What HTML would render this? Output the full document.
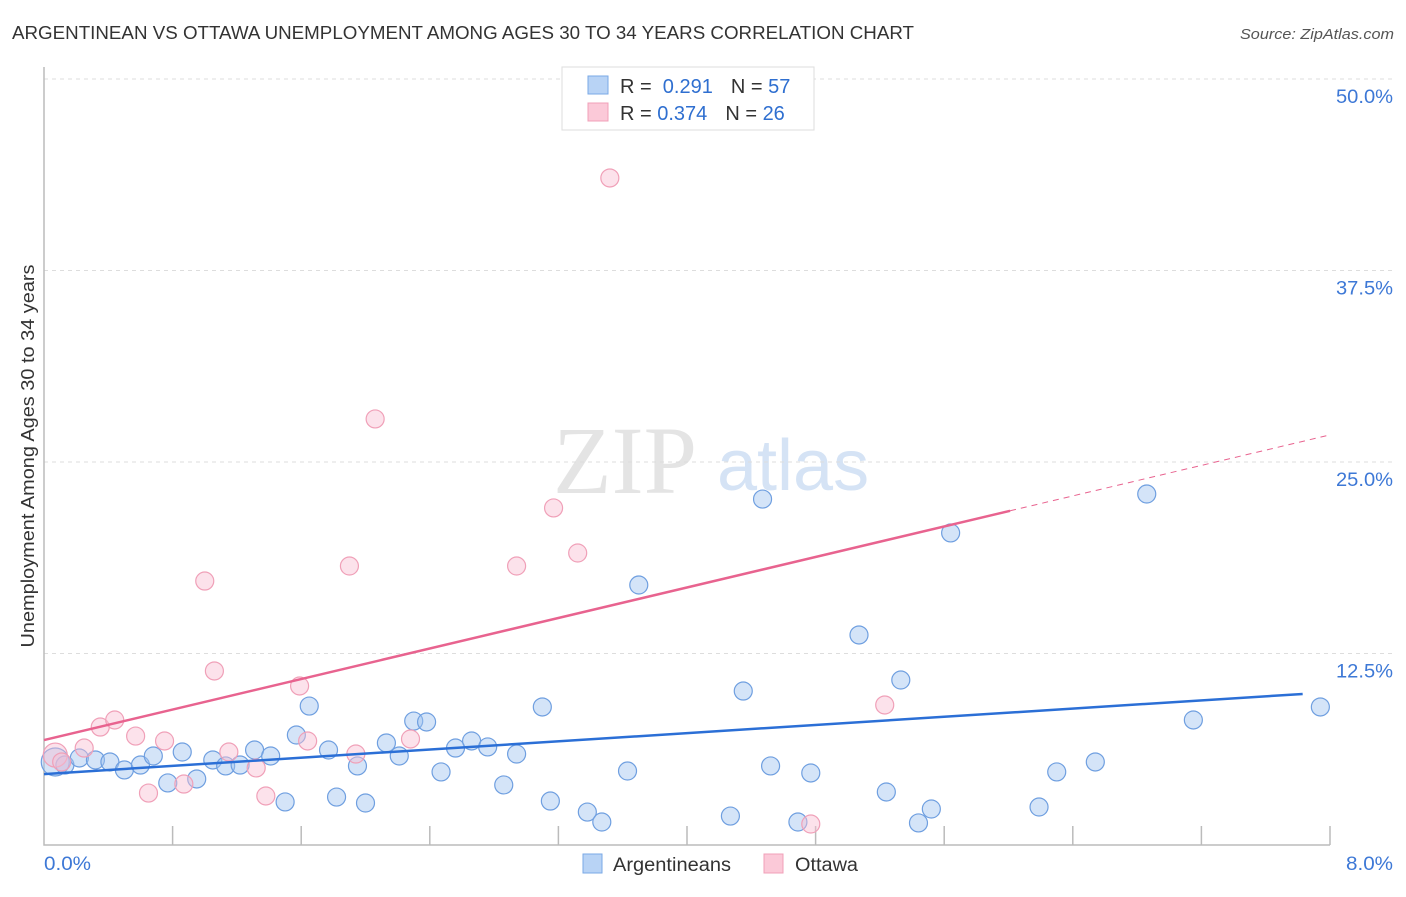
<!DOCTYPE html>
<html><head><meta charset="utf-8"><style>
body{margin:0;background:#fff;font-family:"Liberation Sans",sans-serif;}
</style></head><body>
<svg id="c" width="1406" height="892" xmlns="http://www.w3.org/2000/svg">
<text x="12" y="39" font-size="18" fill="#333" textLength="902" lengthAdjust="spacingAndGlyphs">ARGENTINEAN VS OTTAWA UNEMPLOYMENT AMONG AGES 30 TO 34 YEARS CORRELATION CHART</text>
<text x="1394" y="39" font-size="15" fill="#555" font-style="italic" text-anchor="end" textLength="154" lengthAdjust="spacingAndGlyphs">Source: ZipAtlas.com</text>
<g>
<text x="553" y="493" font-size="96" font-family="Liberation Serif,serif" fill="#e4e4e4">ZIP</text>
<text x="717" y="490" font-size="72" fill="#d5e3f5">atlas</text>
</g>
<g id="grid"></g>
<g id="axes"></g>
<g id="pts"></g>
<g id="lines"></g>
<text transform="translate(34,456) rotate(-90)" font-size="18" fill="#333" text-anchor="middle" textLength="383" lengthAdjust="spacingAndGlyphs">Unemployment Among Ages 30 to 34 years</text>
<g>
<rect x="562" y="67" width="252" height="63" fill="#fff" stroke="#ddd"/>
<rect x="588" y="76" width="20" height="18" fill="#b8d3f5" stroke="#7aa8e6"/>
<rect x="588" y="103" width="20" height="18" fill="#fbc9d8" stroke="#f0a0b8"/>
<text x="620" y="93" font-size="20" fill="#333">R = <tspan fill="#2f6fd0">&#160;0.291</tspan><tspan dx="18">N = </tspan><tspan fill="#2f6fd0">57</tspan></text>
<text x="620" y="120" font-size="20" fill="#333">R = <tspan fill="#2f6fd0">0.374</tspan><tspan dx="18">N = </tspan><tspan fill="#2f6fd0">26</tspan></text>
</g>
<g>
<rect x="583" y="854" width="19" height="19" fill="#b8d3f5" stroke="#7aa8e6"/>
<text x="613" y="871" font-size="19" fill="#333" textLength="118" lengthAdjust="spacingAndGlyphs">Argentineans</text>
<rect x="764" y="854" width="19" height="19" fill="#fbc9d8" stroke="#f0a0b8"/>
<text x="795" y="871" font-size="19" fill="#333" textLength="63" lengthAdjust="spacingAndGlyphs">Ottawa</text>
</g>
</svg>
<script>
const yTicks=[12.5,25,37.5,50];
const yTickLabels=["12.5%","25.0%","37.5%","50.0%"];
const xTickVals=[0,0.8,1.6,2.4,3.2,4.0,4.8,5.6,6.4,7.2,8.0];
const blueX=[0.07,0.13,0.22,0.32,0.41,0.50,0.60,0.68,0.77,0.86,0.95,1.05,1.13,1.22,1.31,1.41,1.50,1.57,1.65,1.77,1.82,1.95,2.00,2.13,2.21,2.30,2.38,2.47,2.56,2.66,2.76,2.86,2.94,3.10,3.15,3.38,3.47,3.63,3.70,4.27,4.35,4.47,4.52,4.69,4.77,5.07,5.24,5.33,5.44,5.52,5.64,6.19,6.30,6.54,6.86,7.15,7.94];
const blueY=[5.42,5.22,5.68,5.55,5.42,4.90,5.22,5.81,4.05,6.07,4.31,5.55,5.16,5.22,6.20,5.81,2.81,7.18,9.07,6.20,3.13,5.16,2.74,6.66,5.81,8.09,8.03,4.77,6.33,6.79,6.40,3.92,5.94,9.01,2.87,2.15,1.50,4.83,16.97,1.89,10.05,22.58,5.16,1.50,4.70,13.71,3.46,10.77,1.44,2.35,20.37,2.48,4.77,5.42,22.91,8.16,9.01];
const pinkX=[0.07,0.11,0.25,0.35,0.44,0.57,0.65,0.75,0.87,1.00,1.06,1.15,1.32,1.38,1.59,1.64,1.90,1.94,2.06,2.28,2.94,3.17,3.32,3.52,4.77,5.23];
const pinkY=[5.87,5.42,6.33,7.70,8.16,7.11,3.39,6.79,3.98,17.23,11.36,6.07,5.03,3.20,10.38,6.79,18.21,5.94,27.81,6.92,18.21,22.00,19.06,43.54,1.37,9.14];
const blueTrend=[4.63,9.86,7.83];
const pinkTrend=[6.85,2.49,6.01,8.0];
const NS="http://www.w3.org/2000/svg";
const sx=v=>44+v/8*1286, sy=v=>845-v/50*766;
function mk(t,a,p){const e=document.createElementNS(NS,t);for(const k in a)e.setAttribute(k,a[k]);p.appendChild(e);return e;}
const grid=document.getElementById('grid'),axes=document.getElementById('axes'),pts=document.getElementById('pts'),lines=document.getElementById('lines');
yTicks.forEach((t,i)=>{
 const l=mk('line',{x1:44,x2:1395,y1:sy(t),y2:sy(t),stroke:'#ddd','stroke-dasharray':'4,4'},grid);
 
 
 const tx=mk('text',{x:1393,y:sy(t)+24,'font-size':19,fill:'#3d78d6','text-anchor':'end',textLength:57,lengthAdjust:'spacingAndGlyphs'},grid);
 tx.textContent=yTickLabels[i];
 
 
});
const ax=mk('path',{d:'M44,67 V845 H1330',stroke:'#bbb',fill:'none','stroke-width':1.5},axes);


xTickVals.forEach(v=>{if(v===0)return;
 const l=mk('line',{x1:sx(v),x2:sx(v),y1:826,y2:845,stroke:'#bbb','stroke-width':1.5},axes);
 
 
});
[[0,'start','0.0%',44],[8,'end','8.0%',1393]].forEach(a=>{
 const t=mk('text',{x:a[3],y:870,'font-size':19,fill:'#3d78d6','text-anchor':a[1],textLength:47,lengthAdjust:'spacingAndGlyphs'},axes);
 t.textContent=a[2];
 
 
});
blueX.forEach((x,i)=>{
 const c=mk('circle',{cx:sx(x),cy:sy(blueY[i]),r:i===0?14:9,fill:'rgba(160,196,240,0.45)',stroke:'#6f9fe0','stroke-width':1.2},pts);
 
 
});
pinkX.forEach((x,i)=>{
 const c=mk('circle',{cx:sx(x),cy:sy(pinkY[i]),r:i===0?12:9,fill:'rgba(248,190,210,0.45)',stroke:'#f0a0b8','stroke-width':1.2},pts);
 
 
});
const bl=mk('line',{x1:sx(0),y1:sy(blueTrend[0]),x2:sx(blueTrend[2]),y2:sy(blueTrend[1]),stroke:'#2b6fd6','stroke-width':2.5},lines);


const py=x=>pinkTrend[0]+pinkTrend[1]*x;
const pl=mk('line',{x1:sx(0),y1:sy(py(0)),x2:sx(pinkTrend[2]),y2:sy(py(pinkTrend[2])),stroke:'#e8638f','stroke-width':2.5},lines);


const pd=mk('line',{x1:sx(pinkTrend[2]),y1:sy(py(pinkTrend[2])),x2:sx(pinkTrend[3]),y2:sy(py(pinkTrend[3])),stroke:'#e8638f','stroke-width':1,'stroke-dasharray':'6,5'},lines);


</script>
</body></html>
